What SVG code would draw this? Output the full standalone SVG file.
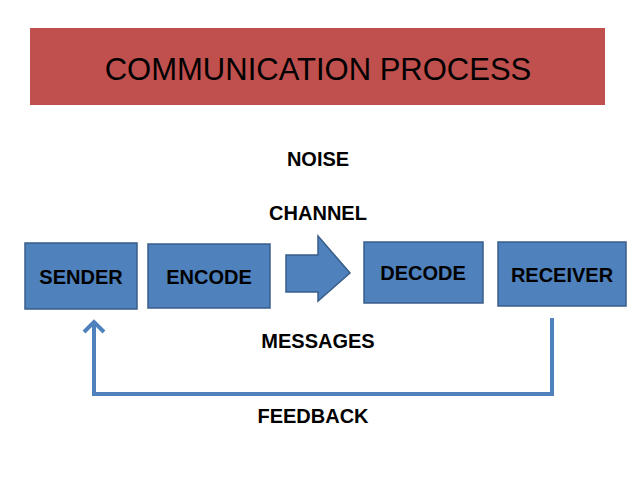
<svg xmlns="http://www.w3.org/2000/svg" width="638" height="479" viewBox="0 0 638 479">
<style>
.box{fill:#4F81BD;stroke:#385D8A;stroke-width:1.5}
.t{font-family:"Liberation Sans","Open Sans",sans-serif;font-weight:bold;font-size:20px;fill:#000;text-anchor:middle}
</style>
<defs><marker id="ah" markerWidth="6" markerHeight="6" refX="3" refY="3" orient="auto" markerUnits="strokeWidth"><path d="M0.5,0.5 L3,3 L0.5,5.5" fill="none" stroke="#4F81BD" stroke-width="1"/></marker></defs>
<rect width="638" height="479" fill="#fff"/>
<g id="title"><rect x="30" y="28" width="575" height="77" fill="#C0504D"/>
<text x="318" y="80" font-family="Liberation Sans,sans-serif" font-size="31" text-anchor="middle" fill="#000">COMMUNICATION PROCESS</text></g>
<g id="noise"><text class="t" x="318" y="166">NOISE</text></g>
<g id="channel"><text class="t" x="318" y="220">CHANNEL</text></g>
<g id="sender"><rect class="box" x="25" y="243" width="112" height="66"/><text class="t" x="81" y="284">SENDER</text></g>
<g id="encode"><rect class="box" x="148" y="244" width="122" height="64"/><text class="t" x="209" y="284">ENCODE</text></g>
<g id="arrow"><path class="box" d="M286,255 L318,255 L318,236 L350,273 L318,301 L318,292 L286,292 Z"/></g>
<g id="decode"><rect class="box" x="364" y="242" width="119" height="61"/><text class="t" x="423" y="280">DECODE</text></g>
<g id="receiver"><rect class="box" x="498" y="242" width="128" height="64"/><text class="t" x="562" y="282">RECEIVER</text></g>
<g id="messages"><text class="t" x="318" y="348">MESSAGES</text></g>
<g id="feedback"><text class="t" x="313" y="423">FEEDBACK</text></g>
<g id="connectors"><path d="M552,318 L552,394 L94,394 L94,322" fill="none" stroke="#4F81BD" stroke-width="4" marker-end="url(#ah)"/></g>
</svg>
